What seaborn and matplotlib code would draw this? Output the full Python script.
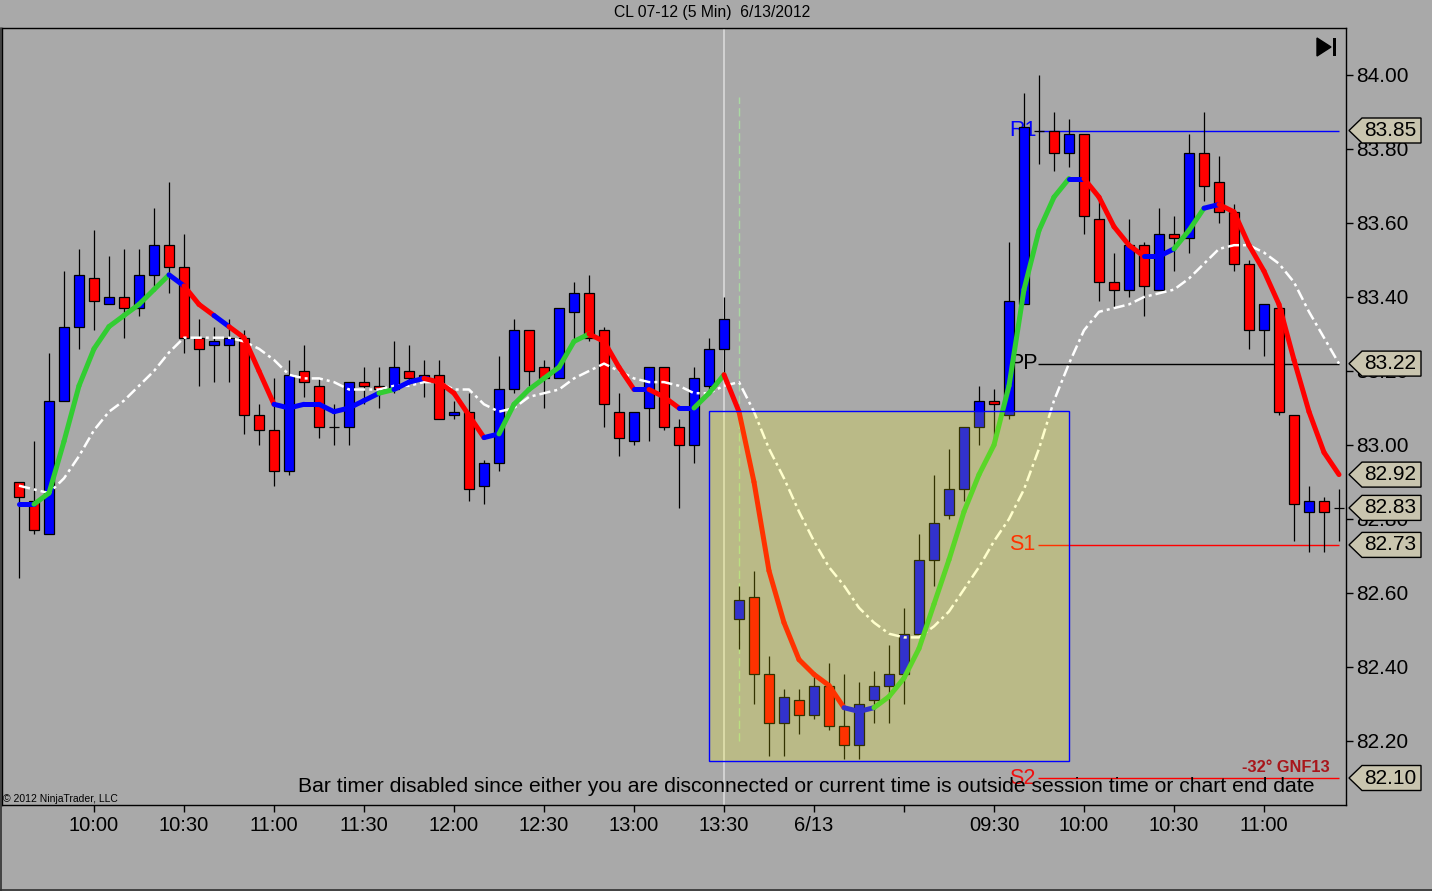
import numpy as np
import pandas as pd
import matplotlib
matplotlib.use("Agg")
import matplotlib.pyplot as plt
import seaborn as sns
from matplotlib.collections import LineCollection
from matplotlib.patches import Rectangle, Polygon
from matplotlib import transforms
from matplotlib.lines import Line2D

# ---------------- data ----------------
opens = [82.90, 82.85, 82.76, 83.12, 83.32, 83.45, 83.38, 83.40, 83.37, 83.46,
         83.54, 83.48, 83.29, 83.27, 83.27, 83.29, 83.08, 83.04, 82.93, 83.20,
         83.16, 83.05, 83.05, 83.17, 83.16, 83.15, 83.20, 83.18, 83.19, 83.08,
         83.09, 82.89, 82.95, 83.15, 83.31, 83.21, 83.18, 83.36, 83.41, 83.31,
         83.09, 83.01, 83.10, 83.21, 83.05, 83.00, 83.16, 83.26,
         82.53, 82.59, 82.38, 82.25, 82.31, 82.27, 82.35, 82.24, 82.19, 82.31,
         82.35, 82.38, 82.49, 82.69, 82.81, 82.88, 83.05, 83.12, 83.08, 83.38,
         83.85, 83.85, 83.79, 83.84, 83.61, 83.44, 83.42, 83.54, 83.42, 83.57,
         83.56, 83.79, 83.71, 83.63, 83.49, 83.31, 83.37, 83.08, 82.82, 82.85,
         82.83]
highs = [82.90, 83.01, 83.25, 83.47, 83.53, 83.58, 83.51, 83.53, 83.53, 83.64,
         83.71, 83.57, 83.34, 83.32, 83.34, 83.31, 83.11, 83.18, 83.23, 83.27,
         83.18, 83.11, 83.17, 83.21, 83.21, 83.28, 83.27, 83.23, 83.23, 83.12,
         83.14, 82.96, 83.24, 83.34, 83.31, 83.23, 83.37, 83.44, 83.46, 83.32,
         83.14, 83.09, 83.21, 83.21, 83.07, 83.21, 83.29, 83.40,
         82.62, 82.66, 82.43, 82.34, 82.34, 82.38, 82.41, 82.38, 82.36, 82.39,
         82.46, 82.56, 82.76, 82.92, 82.99, 83.05, 83.16, 83.15, 83.55, 83.95,
         84.00, 83.90, 83.88, 83.84, 83.66, 83.52, 83.61, 83.55, 83.64, 83.62,
         83.84, 83.90, 83.78, 83.65, 83.50, 83.38, 83.37, 83.08, 82.89, 82.86,
         82.88]
lows = [82.64, 82.76, 82.76, 83.12, 83.26, 83.31, 83.38, 83.29, 83.35, 83.42,
        83.41, 83.25, 83.16, 83.17, 83.17, 83.03, 83.00, 82.89, 82.92, 83.13,
        83.02, 83.00, 83.00, 83.11, 83.10, 83.14, 83.17, 83.13, 83.07, 83.07,
        82.85, 82.84, 82.93, 83.14, 83.16, 83.10, 83.18, 83.28, 83.28, 83.05,
        82.97, 83.00, 83.01, 83.04, 82.83, 82.95, 83.14, 83.18,
        82.45, 82.30, 82.16, 82.16, 82.22, 82.26, 82.23, 82.15, 82.15, 82.25,
        82.25, 82.30, 82.49, 82.62, 82.80, 82.85, 83.00, 83.01, 83.07, 83.38,
        83.76, 83.74, 83.75, 83.57, 83.39, 83.37, 83.40, 83.35, 83.42, 83.47,
        83.52, 83.66, 83.60, 83.47, 83.26, 83.24, 83.08, 82.74, 82.71, 82.71,
        82.74]
closes = [82.86, 82.77, 83.12, 83.32, 83.46, 83.39, 83.40, 83.37, 83.46, 83.54,
          83.48, 83.29, 83.26, 83.28, 83.29, 83.08, 83.04, 82.93, 83.19, 83.17,
          83.05, 83.05, 83.17, 83.16, 83.15, 83.21, 83.18, 83.19, 83.07, 83.09,
          82.88, 82.95, 83.15, 83.31, 83.20, 83.18, 83.37, 83.41, 83.29, 83.11,
          83.02, 83.09, 83.21, 83.05, 83.00, 83.18, 83.26, 83.34,
          82.58, 82.38, 82.25, 82.32, 82.27, 82.35, 82.24, 82.19, 82.30, 82.35,
          82.38, 82.49, 82.69, 82.79, 82.88, 83.05, 83.12, 83.11, 83.39, 83.86,
          83.85, 83.79, 83.84, 83.62, 83.44, 83.42, 83.54, 83.43, 83.57, 83.56,
          83.79, 83.70, 83.63, 83.49, 83.31, 83.38, 83.09, 82.84, 82.85, 82.82,
          82.83]
fast_ma = [82.84, 82.84, 82.87, 83.01, 83.16, 83.26, 83.32, 83.35, 83.38, 83.42,
           83.46, 83.43, 83.38, 83.35, 83.32, 83.29, 83.20, 83.11, 83.10, 83.11,
           83.11, 83.09, 83.10, 83.12, 83.14, 83.15, 83.17, 83.18, 83.17, 83.14,
           83.08, 83.02, 83.03, 83.11, 83.15, 83.18, 83.21, 83.28, 83.30, 83.28,
           83.21, 83.15, 83.15, 83.13, 83.10, 83.10, 83.14, 83.19,
           83.09, 82.90, 82.66, 82.52, 82.42, 82.38, 82.35, 82.29, 82.28, 82.29,
           82.32, 82.37, 82.45, 82.57, 82.69, 82.82, 82.92, 83.00, 83.16, 83.42,
           83.58, 83.67, 83.72, 83.72, 83.67, 83.59, 83.54, 83.51, 83.51, 83.53,
           83.58, 83.64, 83.65, 83.63, 83.54, 83.47, 83.38, 83.23, 83.09, 82.98,
           82.92]
# trend state of the fast average at each bar: u = rising, d = falling, f = flat
fast_state = list("ff" "uuuuuuuuu" "f" "dd" "f" "ddd" "fffffff" "u" "ff" "dddd"
                  "f" "uuuuuu" "ddd" "f" "dd" "f" "uu" "dddddddd" "ff"
                  "uuuuuuuuuuuuu" "f" "dddd" "ff" "uu" "f" "dddddddd")
slow_ma = [82.89, 82.88, 82.87, 82.91, 82.97, 83.04, 83.09, 83.12, 83.16, 83.20,
           83.25, 83.29, 83.29, 83.29, 83.29, 83.28, 83.26, 83.23, 83.19, 83.18,
           83.18, 83.17, 83.15, 83.15, 83.15, 83.16, 83.16, 83.17, 83.17, 83.15,
           83.15, 83.11, 83.09, 83.10, 83.13, 83.14, 83.15, 83.18, 83.20, 83.22,
           83.20, 83.18, 83.17, 83.17, 83.16, 83.14, 83.14, 83.16,
           83.17, 83.09, 82.99, 82.91, 82.82, 82.74, 82.67, 82.62, 82.56, 82.52,
           82.49, 82.48, 82.48, 82.51, 82.55, 82.61, 82.67, 82.74, 82.80, 82.88,
           82.99, 83.12, 83.22, 83.31, 83.36, 83.37, 83.38, 83.40, 83.41, 83.42,
           83.45, 83.49, 83.53, 83.54, 83.54, 83.52, 83.49, 83.44, 83.36, 83.29,
           83.22]

x_tick_bars = [5, 11, 17, 23, 29, 35, 41, 47, 53, 59, 65, 71, 77, 83]
x_tick_labels = ["10:00", "10:30", "11:00", "11:30", "12:00", "12:30", "13:00",
                 "13:30", "6/13", "", "09:30", "10:00", "10:30", "11:00"]
y_ticks = [82.20, 82.40, 82.60, 82.80, 83.00, 83.20, 83.40, 83.60, 83.80, 84.00]

pivot_names = ["R1", "PP", "S1", "S2"]
pivot_values = [83.85, 83.22, 82.73, 82.10]
price_markers = [83.85, 83.22, 82.92, 82.83, 82.73, 82.10]

session_break_bar = 47
glitch_bar = 48
glitch_range = [82.20, 83.94]
box_bars = [46.0, 70.0]
box_prices = [82.146, 83.092]

title = "CL 07-12 (5 Min)  6/13/2012"
timer_msg = ("Bar timer disabled since either you are disconnected or current time "
             "is outside session time or chart end date")

# ---------------- style ----------------
BG = "#A9A9A9"
RED = "#FF0000"
BLUE = "#0000FF"
GREEN = "#32CD32"
MARK = "#C9C5AF"
state_colors = {"u": GREEN, "d": RED, "f": BLUE}
pivot_line_colors = [BLUE, "black", RED, RED]
pivot_text_colors = [BLUE, "black", RED, "#F01010"]

sns.set_theme(style="white")
plt.rcParams["font.family"] = ["Liberation Sans", "DejaVu Sans"]

W, H = 1432, 891
fig = plt.figure(figsize=(W / 100, H / 100), dpi=100, facecolor=BG)
ax = fig.add_axes([2 / W, 1 - 805 / H, 1344 / W, 777 / H])
ax.set_facecolor(BG)

n = len(opens)
df = pd.DataFrame(dict(bar=np.arange(n), open=opens, high=highs, low=lows,
                       close=closes, fast=fast_ma, slow=slow_ma, state=fast_state))

# background helpers
ax.axvline(session_break_bar, color="#DADADA", lw=1.2, zorder=1)
ax.vlines(glitch_bar, glitch_range[0], glitch_range[1], colors="#A9D9A2",
          linestyles=(0, (6, 3)), lw=1.0, zorder=1)

# pivot lines + labels (behind the bars)
for name, val, lc_, tc in zip(pivot_names, pivot_values, pivot_line_colors, pivot_text_colors):
    ax.hlines(val, 67.9, n - 1, color=lc_, lw=1.0, zorder=2)
    ax.text(66.0, val, name, color=tc, fontsize=15.5, ha="left", va="center", zorder=2)

# candles
ax.vlines(df.bar, df.low, df.high, color="black", lw=0.9, zorder=3)
for mask, col in [(df.close > df.open, BLUE), (df.close < df.open, RED)]:
    sub = df[mask]
    ax.bar(sub.bar, (sub.close - sub.open).abs(), bottom=np.minimum(sub.open, sub.close),
           width=0.68, color=col, edgecolor="black", linewidth=0.9, zorder=4)
doj = df[df.close == df.open]
ax.hlines(doj.close, doj.bar - 0.34, doj.bar + 0.34, color="black", lw=0.9, zorder=4)

# slow average (white dash-dot)
sns.lineplot(data=df, x="bar", y="slow", color="white", lw=1.8, ax=ax, zorder=5)
ax.lines[-1].set_linestyle((0, (4.5, 1.6, 1.2, 1.6)))

# fast average, coloured by trend
pts = np.column_stack([df.bar, df.fast])
segs = np.stack([pts[:-1], pts[1:]], axis=1)
lc = LineCollection(segs, colors=[state_colors[s] for s in fast_state[1:]],
                    linewidths=3.6, capstyle="round", joinstyle="round", zorder=6)
ax.add_collection(lc)

# translucent zone box
ax.add_patch(Rectangle((box_bars[0], box_prices[0]), box_bars[1] - box_bars[0],
                       box_prices[1] - box_prices[0], facecolor=(1, 1, 0, 0.2),
                       edgecolor=BLUE, lw=1.0, zorder=8))

# axes
ax.set_xlim(-17 / 15, 1327 / 15)
ax.set_ylim(84 - 730 / 370, 84 + 47 / 370)
ax.set_xlabel("")
ax.set_ylabel("")
ax.set_xticks(x_tick_bars)
ax.set_xticklabels(x_tick_labels)
ax.yaxis.tick_right()
ax.set_yticks(y_ticks)
ax.set_yticklabels([f"{t:.2f}" for t in y_ticks])
ax.tick_params(axis="y", right=True, left=False, direction="out", length=5, width=1,
               colors="black", labelsize=15, pad=2)
ax.tick_params(axis="x", bottom=True, direction="out", length=5, width=1,
               colors="black", labelsize=14.5, pad=3)
for sp in ax.spines.values():
    sp.set_visible(True)
    sp.set_color("black")
    sp.set_linewidth(1.0)

# price markers on the right axis
bt = transforms.blended_transform_factory(fig.transFigure, ax.transData)
h = 12.5 / 370
for v in price_markers:
    poly = Polygon([(1349 / W, v), (1362 / W, v + h), (1421 / W, v + h),
                    (1421 / W, v - h), (1362 / W, v - h)], closed=True,
                   transform=bt, facecolor=MARK, edgecolor="black", lw=1.0,
                   clip_on=False, zorder=20)
    ax.add_patch(poly)
    ax.text(1390 / W, v, f"{v:.2f}", transform=bt, ha="center", va="center",
            fontsize=15, color="black", zorder=21, clip_on=False)

# figure texts
fig.text(712 / W, 1 - 13 / H, title, ha="center", va="center", fontsize=11.3, color="black")
fig.text(806 / W, 1 - 786 / H, timer_msg, ha="center", va="center", fontsize=15.2, color="black")
fig.text(1330 / W, 1 - 767 / H, "-32° GNF13", ha="right", va="center", fontsize=11.8,
         fontweight="bold", color="#A8161B")
fig.text(3 / W, 1 - 799 / H, "© 2012 NinjaTrader, LLC", ha="left", va="center",
         fontsize=7.5, color="black")

# "go to end" icon
fig.add_artist(Polygon([(1317 / W, 1 - 38 / H), (1317 / W, 1 - 56 / H), (1331 / W, 1 - 47 / H)],
                       closed=True, transform=fig.transFigure, facecolor="black", edgecolor="black"))
fig.add_artist(Rectangle((1333 / W, 1 - 56 / H), 3 / W, 18 / H, transform=fig.transFigure,
                         facecolor="black", edgecolor="none"))

# outer frame
fig.add_artist(Line2D([0.5 / W, 0.5 / W], [0, 1 - 28 / H], transform=fig.transFigure,
                      color="#303030", lw=1.2))
fig.add_artist(Line2D([0, 1], [1.5 / H, 1.5 / H], transform=fig.transFigure,
                      color="#303030", lw=1.2))

fig.savefig("out.png", dpi=100, facecolor=BG)
